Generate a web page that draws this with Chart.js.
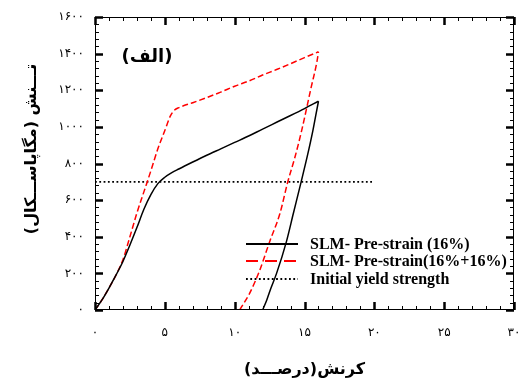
<!DOCTYPE html>
<html>
<head>
<meta charset="utf-8">
<script src="https://cdn.jsdelivr.net/npm/chart.js@4.4.1/dist/chart.umd.min.js"></script>
<style>
  html, body { margin: 0; padding: 0; background: #fff; }
  #wrap { width: 518px; height: 383px; }
</style>
</head>
<body>
<div id="wrap"><canvas id="chart" width="518" height="383"></canvas></div>
<script>
// strain (%) / stress (MPa)
const preLoadX   = [0, 0.5, 1.0, 1.5, 2.0, 2.5, 3.0, 3.5, 4.0, 4.5, 5.0, 5.5, 6.0, 7.0, 8.0, 9.0, 10.0, 11.0, 12.0, 13.0, 14.0, 15.0, 16.0];
const preLoadY   = [0, 55, 120, 190, 265, 355, 450, 550, 630, 690, 725, 750, 770, 808, 845, 880, 915, 950, 988, 1025, 1062, 1100, 1140];
const preUnloadX = [12.0, 12.3, 12.6, 13.0, 13.7, 14.2, 14.76, 15.2, 15.6, 15.8, 16.0];
const preUnloadY = [0, 55, 120, 200, 372, 527, 700, 840, 980, 1060, 1140];

const dblLoadX   = [0, 0.5, 1.0, 1.5, 2.0, 2.5, 3.0, 3.5, 4.0, 4.5, 5.0, 5.4, 5.7, 6.0, 7.0, 8.0, 9.0, 10.0, 11.0, 12.0, 13.0, 14.0, 15.0, 16.0];
const dblLoadY   = [0, 55, 120, 190, 275, 400, 530, 645, 760, 880, 980, 1060, 1092, 1105, 1132, 1160, 1190, 1222, 1250, 1283, 1313, 1345, 1378, 1410];
const dblUnloadX = [10.36, 10.5, 11.07, 11.8, 12.5, 13.24, 13.8, 14.3, 14.8, 15.48, 15.9, 16.0];
const dblUnloadY = [0, 18, 91, 218, 372, 527, 699, 830, 981, 1217, 1360, 1410];

const yieldX = [0, 20];
const yieldY = [700, 700];

const seriesLabels = ['SLM- Pre-strain (16%)', 'SLM- Pre-strain(16%+16%)', 'Initial yield strength'];
const xTicks = [0, 5, 10, 15, 20, 25, 30];
const yTicks = [0, 200, 400, 600, 800, 1000, 1200, 1400, 1600];

const panelLabel = '(الف)';
const xTitle = 'کرنش(درصـــد)';
const yTitle = 'تـــنش (مگاپاســـکال)';

function toPoints(xs, ys) {
	return xs.map((v, i) => ({x: v, y: ys[i]}));
}
function toFa(n) {
	return String(n).replace(/\d/g, d => '۰۱۲۳۴۵۶۷۸۹'[d]);
}

const faFont = '"DejaVu Sans", sans-serif';

const solid = {color: '#000', dash: [], legendDash: []};
const redDash = {color: '#ff0000', dash: [6, 3], legendDash: [12, 7]};
const dotted = {color: '#000', dash: [1.8, 2.5], legendDash: [1.8, 2.5]};

function curve(label, points, style, inLegend, width) {
	return {
		label: label,
		data: points,
		borderColor: style.color,
		borderWidth: width,
		borderDash: style.dash,
		legendDash: style.legendDash,
		inLegend: inLegend,
		showLine: true,
		pointRadius: 0,
		cubicInterpolationMode: 'monotone'
	};
}

// box with inward major/minor ticks on all four sides
const frameTicks = {
	id: 'frameTicks',
	afterDraw(chart) {
		const {ctx, chartArea: a, scales: {x, y}} = chart;
		ctx.save();
		ctx.strokeStyle = '#000';
		ctx.lineWidth = 1;
		ctx.strokeRect(a.left + 0.5, a.top + 0.5, a.right - a.left - 1, a.bottom - a.top - 1);
		for (let v = 0; v <= 30; v += 1) {
			const px = Math.round(x.getPixelForValue(v)) + 0.5;
			const major = v % 5 === 0;
			const len = major ? 8 : 4;
			ctx.lineWidth = major ? 2.5 : 1;
			ctx.beginPath();
			ctx.moveTo(px, a.bottom); ctx.lineTo(px, a.bottom - len);
			ctx.moveTo(px, a.top); ctx.lineTo(px, a.top + len);
			ctx.stroke();
		}
		for (let v = 0; v <= 1600; v += 40) {
			const py = Math.round(y.getPixelForValue(v)) + 0.5;
			const major = v % 200 === 0;
			const len = major ? 8 : 4;
			ctx.lineWidth = major ? 2.5 : 1;
			ctx.beginPath();
			ctx.moveTo(a.left, py); ctx.lineTo(a.left + len, py);
			ctx.moveTo(a.right, py); ctx.lineTo(a.right - len, py);
			ctx.stroke();
		}
		ctx.restore();
	}
};

// titles, panel label and the legend inside the plot
const decorations = {
	id: 'decorations',
	afterDraw(chart) {
		const {ctx, chartArea: a} = chart;
		ctx.save();
		ctx.fillStyle = '#000';
		ctx.textAlign = 'center';
		ctx.textBaseline = 'middle';
		ctx.font = 'bold 18px ' + faFont;
		ctx.fillText(panelLabel, a.left + 52, a.top + 40);

		ctx.font = 'bold 16px ' + faFont;
		ctx.fillText(xTitle, (a.left + a.right) / 2, 370);

		ctx.translate(32, 149);
		ctx.rotate(-Math.PI / 2);
		ctx.fillText(yTitle, 0, 0);
		ctx.restore();

		ctx.save();
		const rows = [244, 261, 279];
		chart.data.datasets.filter(ds => ds.inLegend).forEach((ds, i) => {
			ctx.strokeStyle = ds.borderColor;
			ctx.lineWidth = 2;
			ctx.setLineDash(ds.legendDash);
			ctx.beginPath();
			ctx.moveTo(246, rows[i]);
			ctx.lineTo(298, rows[i]);
			ctx.stroke();
			ctx.setLineDash([]);
			ctx.fillStyle = '#000';
			ctx.font = 'bold 16px "Liberation Serif", serif';
			ctx.textAlign = 'left';
			ctx.textBaseline = 'middle';
			ctx.fillText(ds.label, 310, rows[i] + 1);
		});
		ctx.restore();
	}
};

const ctx = document.getElementById('chart').getContext('2d');
const chart = new Chart(ctx, {
	type: 'scatter',
	data: {
		datasets: [
			curve(seriesLabels[0], toPoints(preLoadX, preLoadY), solid, true, 1.5),
			curve(seriesLabels[0], toPoints(preUnloadX, preUnloadY), solid, false, 1.5),
			curve(seriesLabels[1], toPoints(dblLoadX, dblLoadY), redDash, true, 1.5),
			curve(seriesLabels[1], toPoints(dblUnloadX, dblUnloadY), redDash, false, 1.5),
			curve(seriesLabels[2], toPoints(yieldX, yieldY), dotted, true, 1.8)
		]
	},
	options: {
		responsive: false,
		devicePixelRatio: 1,
		animation: false,
		layout: {padding: {top: 17, right: 4, left: 0, bottom: 0}},
		plugins: {
			legend: {display: false},
			tooltip: {enabled: false}
		},
		scales: {
			x: {
				type: 'linear',
				min: 0,
				max: 30,
				grid: {display: false},
				border: {display: false},
				afterBuildTicks: s => { s.ticks = xTicks.map(v => ({value: v})); },
				afterFit: s => { s.height = 73; s.paddingLeft = 0; s.paddingRight = 0; },
				ticks: {
					padding: 8,
					color: '#000',
					font: {family: faFont, size: 12},
					callback: v => toFa(v)
				}
			},
			y: {
				type: 'linear',
				min: 0,
				max: 1600,
				grid: {display: false},
				border: {display: false},
				afterBuildTicks: s => { s.ticks = yTicks.map(v => ({value: v})); },
				afterFit: s => { s.width = 95; s.paddingTop = 0; s.paddingBottom = 0; },
				ticks: {
					padding: 3,
					color: '#000',
					font: {family: faFont, size: 12},
					callback: v => toFa(v)
				}
			}
		}
	},
	plugins: [frameTicks, decorations]
});
</script>
</body>
</html>
